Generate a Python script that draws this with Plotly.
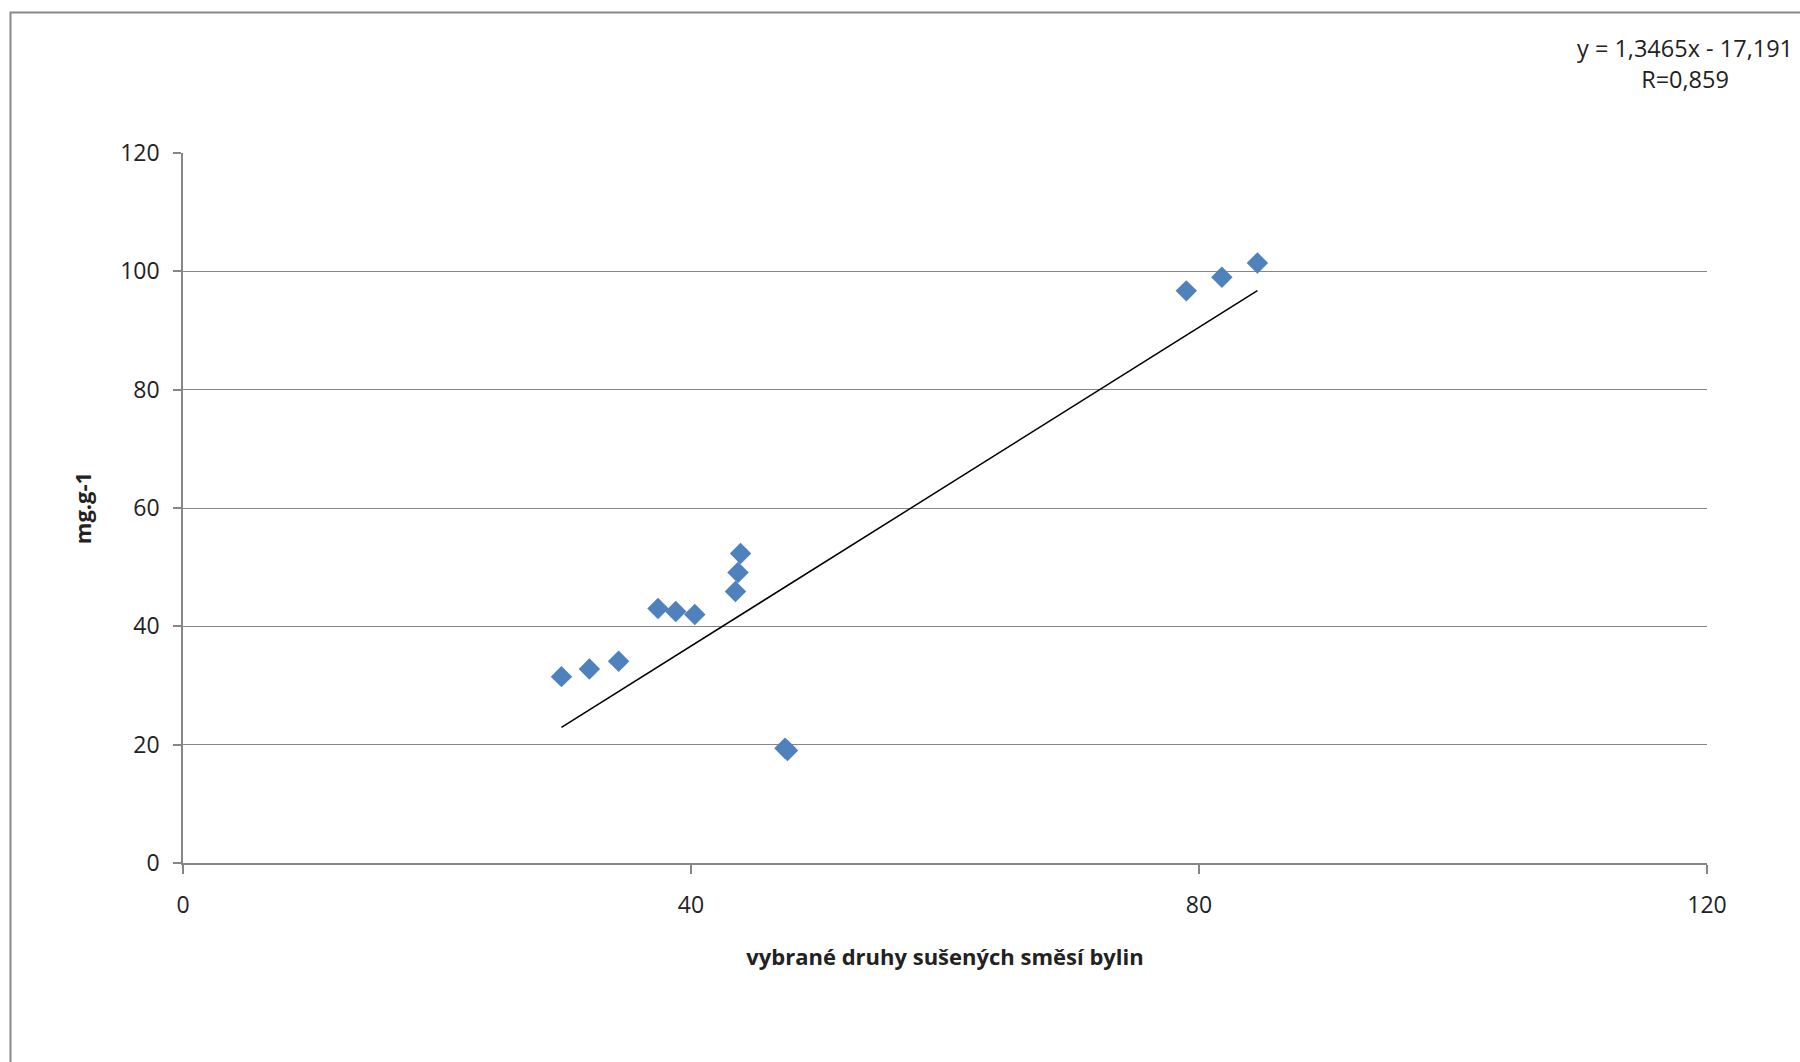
import plotly.graph_objects as go

# data
x_vals = [29.8, 32.0, 34.3, 37.4, 38.8, 40.3, 43.5, 43.7, 43.9, 47.4, 47.6, 79.0, 81.8, 84.6]
y_vals = [31.5, 32.8, 34.1, 43.0, 42.5, 42.0, 45.9, 49.1, 52.3, 19.4, 19.0, 96.7, 99.0, 101.4]
slope = 1.3465
intercept = -17.191
eq_text = "y = 1,3465x - 17,191<br>R=0,859"
x_title = "vybrané druhy sušených směsí bylin"
y_title = "mg.g-1"
x_ticks = [0, 40, 80, 120]
y_ticks = [0, 20, 40, 60, 80, 100, 120]

x_line = [min(x_vals), max(x_vals)]
y_line = [slope * v + intercept for v in x_line]

FONT = "Open Sans"
fig = go.Figure()
fig.add_trace(go.Scatter(
    x=x_vals, y=y_vals, mode="markers",
    marker=dict(symbol="diamond", size=16.5, color="#4F81BD", line=dict(width=0)),
    showlegend=False))
fig.add_trace(go.Scatter(
    x=x_line, y=y_line, mode="lines",
    line=dict(color="black", width=1.5), showlegend=False))

W, H = 1800, 1062
ml, mr, mt, mb = 183, 93, 153, 199
fig.update_layout(
    width=W, height=H,
    margin=dict(l=ml, r=mr, t=mt, b=mb, pad=0),
    paper_bgcolor="white", plot_bgcolor="white",
    font=dict(family=FONT, size=22, color="#222222"),
    xaxis=dict(range=[0, 120], tickvals=x_ticks, showgrid=False, zeroline=False,
               showline=True, linecolor="#868686", linewidth=1.5,
               ticks="outside", ticklen=9, tickcolor="#868686", tickwidth=1.5,
               tickfont=dict(size=23), ticklabelstandoff=12,
               title=dict(text="<b>" + x_title + "</b>", font=dict(size=22), standoff=30)),
    yaxis=dict(range=[0, 120], tickvals=y_ticks, showgrid=True, gridcolor="#868686",
               gridwidth=1.2, zeroline=False,
               showline=True, linecolor="#868686", linewidth=1.5,
               ticks="outside", ticklen=8, tickcolor="#868686", tickwidth=1.5,
               tickfont=dict(size=23), ticklabelstandoff=9,
               title=dict(text="<b>" + y_title + "</b>", font=dict(size=22), standoff=22)),
)

pw = W - ml - mr
ph = H - mt - mb
fig.add_shape(type="rect", xref="paper", yref="paper",
              x0=(10.5 - ml) / pw, x1=(W + 20 - ml) / pw,
              y0=-(H + 20 - (H - mb)) / ph, y1=((H - mb) - 12.5) / ph,
              line=dict(color="#898989", width=2), layer="below")

fig.add_annotation(text=eq_text, xref="paper", yref="paper",
                   x=(1685 - ml) / pw, y=((H - mb) - 64) / ph,
                   xanchor="center", yanchor="middle", align="center",
                   showarrow=False, font=dict(size=23.5, color="#222222"))

fig.write_html("out.html")
